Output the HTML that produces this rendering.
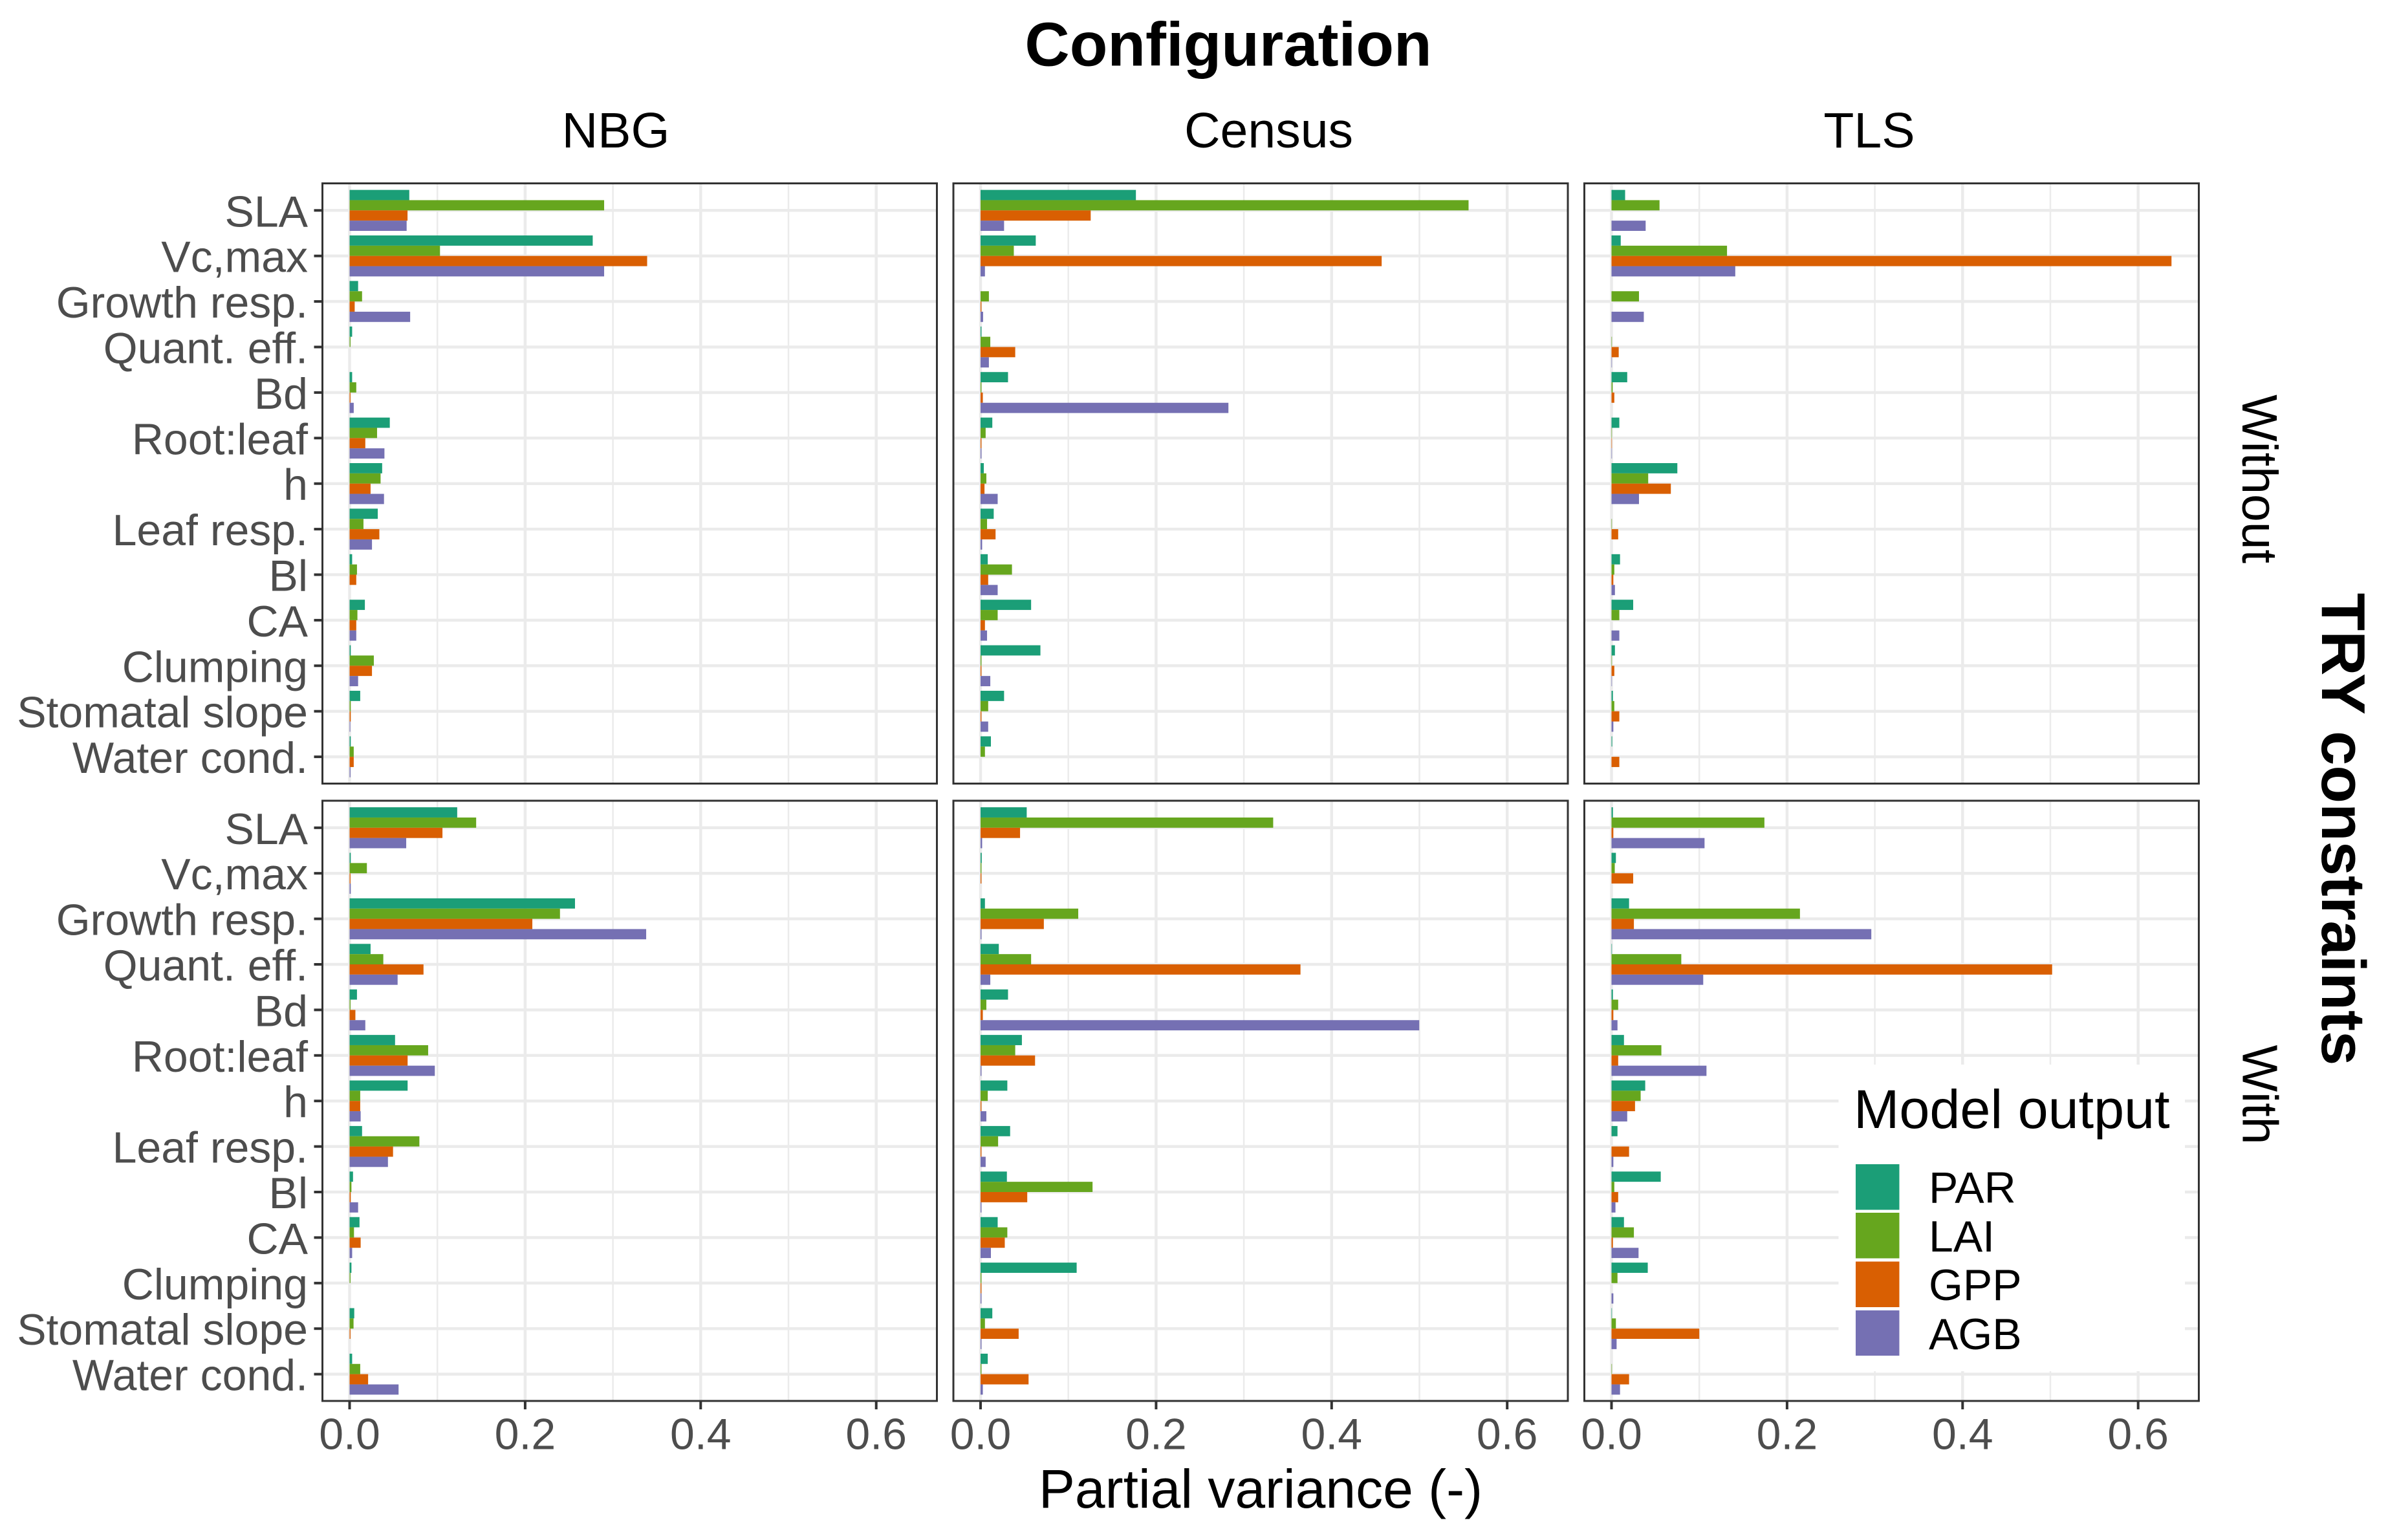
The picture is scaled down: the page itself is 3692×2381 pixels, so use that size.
<!DOCTYPE html>
<html lang="en">
<head>
<meta charset="utf-8">
<title>Partial variance by trait and configuration</title>
<style>
html,body{margin:0;padding:0;background:#fff;}
svg{display:block;}
text{font-family:"Liberation Sans",Arial,sans-serif;}
</style>
</head>
<body>
<svg id="chart" xmlns="http://www.w3.org/2000/svg" width="3692" height="2381" viewBox="0 0 3692 2381">
<rect x="0" y="0" width="3692" height="2381" fill="#ffffff"/>
<text x="1899" y="101.5" font-size="96" font-weight="700" text-anchor="middle" fill="#000">Configuration</text>
<text x="952" y="228" font-size="77" text-anchor="middle" fill="#000">NBG</text>
<text x="1961.5" y="228" font-size="77" text-anchor="middle" fill="#000">Census</text>
<text x="2890" y="228" font-size="77" text-anchor="middle" fill="#000">TLS</text>
<g id="panels"></g>
<text transform="translate(3467,740.5) rotate(90)" font-size="77" text-anchor="middle" fill="#000">Without</text>
<text transform="translate(3467.5,1692.5) rotate(90)" font-size="77" text-anchor="middle" fill="#000">With</text>
<text transform="translate(3590,1282) rotate(90)" font-size="96" font-weight="700" text-anchor="middle" fill="#000">TRY constraints</text>
<text x="1949" y="2331" font-size="84" text-anchor="middle" fill="#000">Partial variance (-)</text>
<g>
<rect x="2842.5" y="1646" width="535.5" height="474" fill="#ffffff"/>
<text x="2866" y="1744" font-size="84.5" fill="#000">Model output</text>
<rect x="2869" y="1800" width="67.5" height="70.5" fill="#1B9E77"/>
<rect x="2869" y="1875" width="67.5" height="70.5" fill="#66A61E"/>
<rect x="2869" y="1950.5" width="67.5" height="70.5" fill="#D95F02"/>
<rect x="2869" y="2026" width="67.5" height="70" fill="#7570B3"/>
<text x="2982" y="1859.5" font-size="68" fill="#000">PAR</text>
<text x="2982" y="1935" font-size="68" fill="#000">LAI</text>
<text x="2982" y="2010" font-size="68" fill="#000">GPP</text>
<text x="2982" y="2086" font-size="68" fill="#000">AGB</text>
</g>
</svg>
<script>
const categories = ["SLA","Vc,max","Growth resp.","Quant. eff.","Bd","Root:leaf","h","Leaf resp.","Bl","CA","Clumping","Stomatal slope","Water cond."];
const majorTicks = [0, 0.2, 0.4, 0.6];
const majorTickLabels = ["0.0", "0.2", "0.4", "0.6"];
const minorTicks = [0.1, 0.3, 0.5];

const nbgWithoutPAR = [.068,.277,.0097,.0029,.0029,.0458,.0371,.0321,.0029,.0174,.0013,.0121,.0013];
const nbgWithoutLAI = [.290,.103,.0142,.001,.0076,.0313,.0353,.0158,.0084,.0089,.0276,.0013,.0047];
const nbgWithoutGPP = [.066,.339,.0058,0,.001,.0179,.0239,.0339,.0076,.0076,.0255,.0013,.0047];
const nbgWithoutAGB = [.065,.290,.069,0,.0047,.0397,.0392,.0255,0,.0076,.0097,.0008,.001];

const censusWithoutPAR = [.177,.0629,0,.001,.0313,.0134,.0037,.015,.0082,.0576,.0682,.0268,.0118];
const censusWithoutLAI = [.556,.0379,.0095,.0111,.001,.0058,.0066,.0074,.0358,.0195,.001,.0087,.005];
const censusWithoutGPP = [.1255,.457,.001,.0395,.0026,.001,.0045,.0171,.0087,.005,.001,.001,0];
const censusWithoutAGB = [.0268,.005,.0029,.0095,.2824,.001,.0195,.0018,.0195,.0074,.0111,.0087,0];

const tlsWithoutPAR = [.0155,.0105,0,0,.0179,.0089,.075,0,.0097,.0247,.0039,.0016,.0008];
const tlsWithoutLAI = [.0547,.1316,.0313,.0005,.0013,.0005,.0418,.0005,.0032,.0089,.0005,.0032,0];
const tlsWithoutGPP = [0,.638,0,.0082,.0032,.0005,.0676,.0076,.0021,0,.0032,.0089,.0089];
const tlsWithoutAGB = [.0389,.141,.0368,.0005,0,.0005,.0313,0,.0039,.0089,.0005,.0021,0];

const nbgWithPAR = [.1226,.0013,.2568,.0239,.0084,.0518,.0661,.0142,.0039,.0113,.0021,.0053,.0029];
const nbgWithLAI = [.1442,.0197,.2397,.0384,.001,.0895,.0121,.0795,.0021,.005,.001,.0045,.0121];
const nbgWithGPP = [.1058,.001,.2082,.0842,.0066,.0661,.0121,.0495,.0013,.0126,0,.001,.0211];
const nbgWithAGB = [.0645,.0013,.3379,.0547,.0179,.0971,.0126,.0437,.0097,.0029,0,0,.0558];

const censusWithPAR = [.0526,.0013,.005,.0208,.0313,.0471,.0305,.0337,.03,.0195,.1095,.0134,.0082];
const censusWithLAI = [.3334,.001,.1113,.0576,.0066,.0395,.0082,.02,.1276,.0305,.001,.005,.001];
const censusWithGPP = [.045,.001,.0721,.3645,.0026,.0621,.001,.001,.0532,.0276,.001,.0434,.0547];
const censusWithAGB = [.0018,0,.001,.0111,.4998,.001,.0066,.0058,.001,.0118,.001,.001,.0026];

const tlsWithPAR = [.0016,.005,.02,.0005,.0016,.0142,.0384,.0068,.0561,.0142,.0413,.0005,0];
const tlsWithLAI = [.1742,.0037,.2147,.0795,.0076,.0568,.0332,0,.0032,.0255,.0068,.005,.0005];
const tlsWithGPP = [.0021,.0247,.0255,.502,.0021,.0076,.0268,.02,.0076,.0016,0,.1,.02];
const tlsWithAGB = [.106,0,.296,.1045,.0068,.1082,.0179,.0021,.0045,.0308,.0021,.0058,.0097];

const seriesNames = ["PAR","LAI","GPP","AGB"];
const seriesColors = ["#1B9E77","#66A61E","#D95F02","#7570B3"];

const panelList = [
  {name:"nbg-without", col:0, row:0, series:[nbgWithoutPAR,nbgWithoutLAI,nbgWithoutGPP,nbgWithoutAGB]},
  {name:"census-without", col:1, row:0, series:[censusWithoutPAR,censusWithoutLAI,censusWithoutGPP,censusWithoutAGB]},
  {name:"tls-without", col:2, row:0, series:[tlsWithoutPAR,tlsWithoutLAI,tlsWithoutGPP,tlsWithoutAGB]},
  {name:"nbg-with", col:0, row:1, series:[nbgWithPAR,nbgWithLAI,nbgWithGPP,nbgWithAGB]},
  {name:"census-with", col:1, row:1, series:[censusWithPAR,censusWithLAI,censusWithGPP,censusWithAGB]},
  {name:"tls-with", col:2, row:1, series:[tlsWithPAR,tlsWithLAI,tlsWithGPP,tlsWithAGB]}
];

const SVGNS = "http://www.w3.org/2000/svg";
const colLefts = [498.5, 1474, 2449.5];
const rowTops = [283.5, 1238];
const panelW = 950;
const panelH = 928;
const xZeroOffset = 42;
const xUnit = 1357;
const yFirstOffset = 41.8;
const yStep = 70.4;

function xScale(v, left) { return left + xZeroOffset + v * xUnit; }
function yScale(i, top) { return top + yFirstOffset + i * yStep; }

function make(tag, parent, attrs) {
  const el = document.createElementNS(SVGNS, tag);
  for (const k in attrs) el.setAttribute(k, attrs[k]);
  parent.appendChild(el);
  return el;
}

const root = document.getElementById("panels");

panelList.forEach(function (p) {
  const left = colLefts[p.col];
  const top = rowTops[p.row];
  const right = left + panelW;
  const bottom = top + panelH;
  const g = make("g", root, {});
  
  

  minorTicks.forEach(function (t) {
    const x = xScale(t, left);
    const l = make("line", g, {x1:x, x2:x, y1:top, y2:bottom, stroke:"#EBEBEB", "stroke-width":2.5});
    
    
  });
  majorTicks.forEach(function (t) {
    const x = xScale(t, left);
    const l = make("line", g, {x1:x, x2:x, y1:top, y2:bottom, stroke:"#EBEBEB", "stroke-width":4.5});
    
    
  });
  categories.forEach(function (c, i) {
    const y = yScale(i, top);
    const l = make("line", g, {x1:left, x2:right, y1:y, y2:y, stroke:"#EBEBEB", "stroke-width":4.5});
    
    
  });

  p.series.forEach(function (values, s) {
    values.forEach(function (v, i) {
      const barH = yStep * 0.225;
      const y = yScale(i, top) - yStep * 0.45 + s * barH;
      const x0 = xScale(0, left);
      const r = make("rect", g, {x:x0, y:y, width:Math.max(0, xScale(v, left) - x0), height:barH, fill:seriesColors[s]});
      
      
    });
  });

  const border = make("rect", g, {x:left, y:top, width:panelW, height:panelH, fill:"none", stroke:"#333333", "stroke-width":3});
  
  

  if (p.col === 0) {
    categories.forEach(function (c, i) {
      const y = yScale(i, top);
      const tick = make("line", g, {x1:left - 13, x2:left, y1:y, y2:y, stroke:"#333333", "stroke-width":4});
      
      
      const label = make("text", g, {x:476, y:y + 25, "font-size":68, "text-anchor":"end", fill:"#4D4D4D"});
      label.textContent = c;
      
      
    });
  }
  if (p.row === 1) {
    majorTicks.forEach(function (t, i) {
      const x = xScale(t, left);
      const tick = make("line", g, {x1:x, x2:x, y1:bottom, y2:bottom + 13, stroke:"#333333", "stroke-width":4});
      
      
      const label = make("text", g, {x:x, y:2240.5, "font-size":68, "text-anchor":"middle", fill:"#4D4D4D"});
      label.textContent = majorTickLabels[i];
      
      
    });
  }
});
</script>
</body>
</html>
